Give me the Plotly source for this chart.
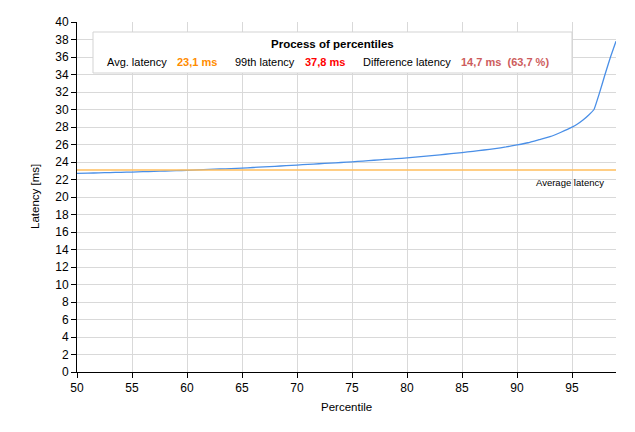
import plotly.graph_objects as go

percentiles = [50, 51, 52, 53, 54, 55, 56, 57, 58, 59, 60, 61, 62, 63, 64, 65, 66, 67, 68, 69,
               70, 71, 72, 73, 74, 75, 76, 77, 78, 79, 80, 81, 82, 83, 84, 85, 86, 87, 88, 89,
               90, 91, 92, 93, 94, 95, 95.5, 96, 96.5, 97, 97.5, 98, 98.5, 99]
latency = [22.70, 22.73, 22.76, 22.79, 22.82, 22.85, 22.89, 22.93, 22.97, 23.01,
           23.05, 23.10, 23.15, 23.20, 23.25, 23.30, 23.37, 23.44, 23.51, 23.58,
           23.65, 23.73, 23.80, 23.87, 23.94, 24.02, 24.11, 24.20, 24.29, 24.38,
           24.47, 24.58, 24.70, 24.82, 24.95, 25.08, 25.22, 25.37, 25.53, 25.72,
           25.95, 26.20, 26.55, 26.90, 27.40, 27.98, 28.35, 28.80, 29.35, 30.00,
           31.90, 34.00, 36.00, 37.80]
avg_latency = 23.1
x_ticks = [50, 55, 60, 65, 70, 75, 80, 85, 90, 95]
y_ticks = list(range(0, 41, 2))

L, R, T, B = 77, 616, 22, 372
W, H = 635, 432


def px(x):
    return (x - L) / (R - L)


def py(y):
    return (B - y) / (B - T)


FONT = "Liberation Sans, Arial, sans-serif"

fig = go.Figure()
fig.add_trace(go.Scatter(x=percentiles, y=latency, mode="lines",
                         line=dict(color="#4A8FE7", width=1.3, shape="spline", smoothing=0.3),
                         hoverinfo="skip"))
fig.add_trace(go.Scatter(x=[50, 99], y=[avg_latency, avg_latency], mode="lines",
                         line=dict(color="#FFBE5C", width=1.5), hoverinfo="skip"))

fig.update_layout(
    width=W, height=H,
    margin=dict(l=L, r=W - R, t=T, b=H - B),
    plot_bgcolor="white", paper_bgcolor="white",
    showlegend=False,
    font=dict(family=FONT, size=12, color="black"),
)
fig.update_xaxes(range=[50, 99], tickvals=x_ticks, ticktext=[str(v) for v in x_ticks],
                 showgrid=True, gridcolor="#D9D9D9", gridwidth=1,
                 showline=True, linecolor="black", linewidth=1,
                 ticks="outside", ticklen=5, tickcolor="black",
                 tickfont=dict(size=12), zeroline=False)
fig.update_yaxes(range=[0, 40], tickvals=y_ticks, ticktext=[str(v) for v in y_ticks],
                 showgrid=True, gridcolor="#D9D9D9", gridwidth=1,
                 showline=True, linecolor="black", linewidth=1,
                 ticks="outside", ticklen=5, tickcolor="black",
                 tickfont=dict(size=12), zeroline=False)

# Legend box
fig.add_shape(type="rect", xref="paper", yref="paper",
              x0=px(93), x1=px(572), y0=py(73), y1=py(32),
              line=dict(color="#D3D3D3", width=1), fillcolor="white", layer="above")

anns = []
anns.append(dict(x=px(332), y=py(44), text="<b>Process of percentiles</b>",
                 font=dict(size=11.5, color="black"), xanchor="center"))
items = [
    (105, "Avg. latency", "black", False),
    (175, "23,1 ms", "#FF8C00", True),
    (233, "99th latency", "black", False),
    (303, "37,8 ms", "#FF0000", True),
    (361, "Difference latency", "black", False),
    (459, "14,7 ms&nbsp;&nbsp;(63,7 %)", "#CD5C5C", True),
]
for x, t, c, bold in items:
    anns.append(dict(x=px(x), y=py(62), text=(f"<b>{t}</b>" if bold else t),
                     font=dict(size=11, color=c), xanchor="left"))
anns.append(dict(x=px(606), y=py(182), text="Average latency",
                 font=dict(size=9.5, color="black"), xanchor="right"))
anns.append(dict(x=px(346), y=py(407), text="Percentile",
                 font=dict(size=11.5, color="black"), xanchor="center"))
anns.append(dict(x=px(35), y=py(197), text="Latency [ms]", textangle=-90,
                 font=dict(size=11.5, color="black"), xanchor="center"))
for a in anns:
    a.update(xref="paper", yref="paper", showarrow=False, yanchor="middle")
fig.update_layout(annotations=anns)

fig.write_html("out.html")
